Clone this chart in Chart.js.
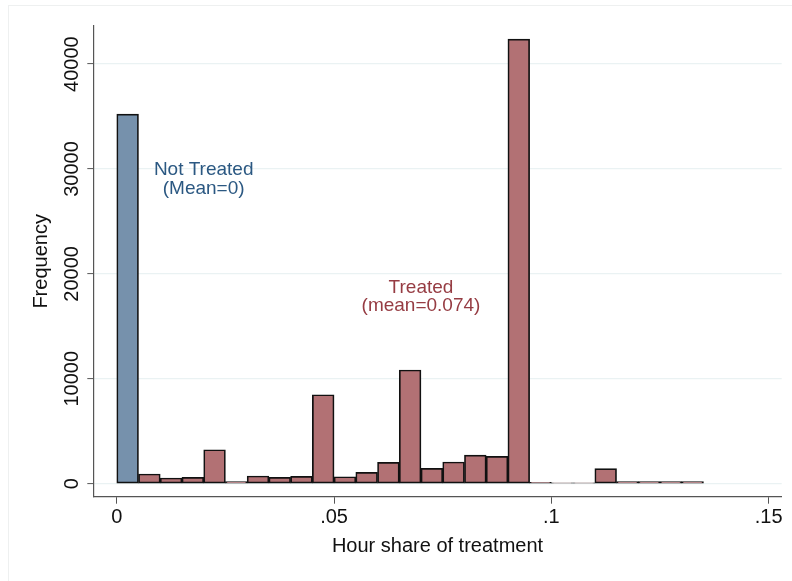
<!DOCTYPE html>
<html>
<head>
<meta charset="utf-8">
<script src="https://cdn.jsdelivr.net/npm/chart.js@4.4.1/dist/chart.umd.min.js"></script>
<style>
  html, body { margin: 0; padding: 0; background: #ffffff; }
  #wrap { width: 792px; height: 581px; position: relative; }
</style>
</head>
<body>
<div id="wrap"><canvas id="c" width="792" height="581"></canvas></div>
<script>
// ---- data ----
const binWidth = 0.005;
const notTreatedBins = [0.0];
const notTreatedFreq = [35240];
const treatedBins = [0.005, 0.010, 0.015, 0.020, 0.025, 0.030, 0.035, 0.040, 0.045, 0.050,
                     0.055, 0.060, 0.065, 0.070, 0.075, 0.080, 0.085, 0.090, 0.095, 0.100,
                     0.105, 0.110, 0.115, 0.120, 0.125, 0.130];
const treatedFreq = [925, 545, 610, 3240, 210, 735, 610, 705, 8480, 665,
                     1085, 2040, 10840, 1470, 2070, 2735, 2610, 42390, 130, 80,
                     80, 1430, 200, 200, 200, 200];
const xTicks = [0, 0.05, 0.1, 0.15];
const xTickLabels = ['0', '.05', '.1', '.15'];
const yTicks = [0, 10000, 20000, 30000, 40000];
const yTickLabels = ['0', '10000', '20000', '30000', '40000'];
const xTitle = 'Hour share of treatment';
const yTitle = 'Frequency';
const noteX = [0.02, 0.07];
const noteY = [29000, 17800];
const noteLines = [['Not Treated', '(Mean=0)'], ['Treated', '(mean=0.074)']];
const noteColors = ['#2b5882', '#963c43'];

const FONT = '"Liberation Sans", Arial, Helvetica, sans-serif';

const toPoints = (bins, freq) => bins.map((b, i) => ({ x: b + binWidth / 2, y: freq[i] }));

const stataPlugin = {
  id: 'stataPlugin',
  beforeDraw(chart) {
    const ctx = chart.ctx;
    ctx.save();
    ctx.strokeStyle = '#eef0f0';
    ctx.lineWidth = 1;
    ctx.strokeRect(8.5, 5.5, 900, 700);
    ctx.restore();
  },
  afterDraw(chart) {
    const { ctx, scales: { x, y } } = chart;
    ctx.save();
    // y tick labels, rotated as in the reference
    ctx.font = '20px ' + FONT;
    ctx.fillStyle = '#111';
    ctx.textAlign = 'center';
    ctx.textBaseline = 'alphabetic';
    yTicks.forEach((v, i) => {
      const py = y.getPixelForValue(v);
      ctx.save();
      ctx.translate(y.right - 15, py);
      ctx.rotate(-Math.PI / 2);
      ctx.fillText(yTickLabels[i], 0, 0);
      ctx.restore();
    });
    // annotations
    ctx.font = '19px ' + FONT;
    ctx.textBaseline = 'middle';
    noteLines.forEach((lines, k) => {
      const px = x.getPixelForValue(noteX[k]);
      const py = y.getPixelForValue(noteY[k]);
      ctx.fillStyle = noteColors[k];
      const lh = 18.5;
      lines.forEach((t, j) => {
        ctx.fillText(t, px, py + (j - (lines.length - 1) / 2) * lh);
      });
    });
    ctx.restore();
  }
};

new Chart(document.getElementById('c'), {
  type: 'bar',
  data: {
    datasets: [
      {
        label: 'Treated',
        data: toPoints(treatedBins, treatedFreq),
        backgroundColor: '#b27174',
        borderColor: '#111111',
        borderWidth: 1.7,
        borderSkipped: false,
        barPercentage: 1,
        categoryPercentage: 1,
        grouped: false
      },
      {
        label: 'Not Treated',
        data: toPoints(notTreatedBins, notTreatedFreq),
        backgroundColor: '#7691ac',
        borderColor: '#111111',
        borderWidth: 1.7,
        borderSkipped: false,
        barPercentage: 1,
        categoryPercentage: 1,
        grouped: false
      }
    ]
  },
  options: {
    responsive: false,
    animation: false,
    devicePixelRatio: 1,
    layout: { padding: { top: 26, right: 10.3, bottom: 0, left: 0 } },
    plugins: { legend: { display: false }, tooltip: { enabled: false } },
    scales: {
      x: {
        type: 'linear',
        offset: false,
        min: -0.0054,
        max: 0.153,
        afterBuildTicks: (s) => { s.ticks = xTicks.map(v => ({ value: v })); },
        afterFit: (s) => { s.height = 84.3; },
        ticks: {
          callback: (v, i) => xTickLabels[i],
          font: { family: FONT, size: 20 },
          color: '#111',
          padding: 2,
          maxRotation: 0,
          minRotation: 0
        },
        grid: { offset: false, drawOnChartArea: false, tickLength: 7, tickColor: '#555', tickWidth: 1 },
        border: { display: true, color: '#555', width: 1.2 },
        title: {
          display: true,
          text: xTitle,
          font: { family: FONT, size: 20, lineHeight: 1.2 },
          color: '#111',
          padding: { top: 0, bottom: 22.6 }
        }
      },
      y: {
        type: 'linear',
        min: -1239,
        max: 43630,
        afterBuildTicks: (s) => { s.ticks = yTicks.map(v => ({ value: v })); },
        afterFit: (s) => { s.width = 93.3; },
        ticks: {
          callback: () => '',
          font: { family: FONT, size: 20 },
          padding: 0
        },
        grid: { color: '#eaf2f3', lineWidth: 1.2, tickLength: 6, tickColor: '#555', tickWidth: 1 },
        border: { display: true, color: '#555', width: 1.2 },
        title: {
          display: true,
          text: yTitle,
          font: { family: FONT, size: 20, lineHeight: 1.2 },
          color: '#111',
          padding: { top: 29.5, bottom: 0 }
        }
      }
    }
  },
  plugins: [stataPlugin]
});
</script>
</body>
</html>
